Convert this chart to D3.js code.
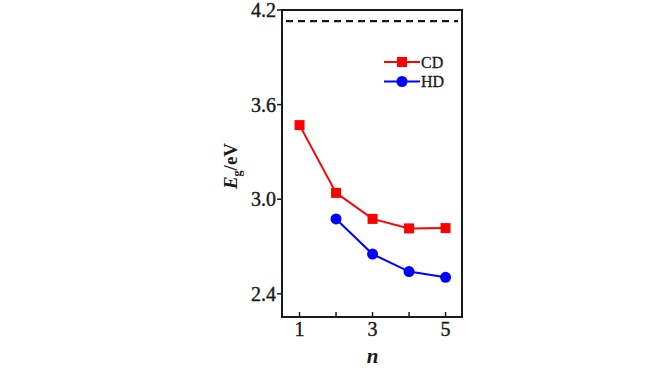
<!DOCTYPE html>
<html>
<head>
<meta charset="utf-8">
<script src="https://cdn.jsdelivr.net/npm/d3@7"></script>
<style>
  body { margin: 0; background: #fff; }
</style>
</head>
<body>
<script>
let n = [1, 2, 3, 4, 5]
let cdN = [1, 2, 3, 4, 5]
let cdEg = [3.47, 3.04, 2.875, 2.815, 2.817]
let hdN = [2, 3, 4, 5]
let hdEg = [2.875, 2.652, 2.541, 2.505]
let limitEg = 4.13
let yTicks = [2.4, 3.0, 3.6, 4.2]
let xLabels = [1, 3, 5]

let
  width = 668,
  height = 372

let margin = { top: 10, bottom: 55, left: 282, right: 206 }
let font = 'Liberation Serif'
let ink = '#1a1a1a'

let svg = d3.select('body')
  .append('svg')
  .attr('width', width)
  .attr('height', height)
  .attr('font-family', font)

let chartWidth = width - margin.left - margin.right
let chartHeight = height - margin.top - margin.bottom

let x = d3.scaleLinear().domain([0.52, 5.45]).range([0, chartWidth])
let y = d3.scaleLinear().domain([2.253, 4.2]).range([chartHeight, 0])

let chart = svg.append('g')
  .attr('transform', `translate(${margin.left}, ${margin.top})`)

// dashed limit line
chart.append('line')
  .attr('x1', 4)
  .attr('x2', chartWidth - 4)
  .attr('y1', y(limitEg))
  .attr('y2', y(limitEg))
  .attr('stroke', ink)
  .attr('stroke-width', 2.2)
  .attr('stroke-dasharray', '7,5')

// y axis ticks (outward)
yTicks.forEach(t => {
  chart.append('line')
    .attr('x1', -5).attr('x2', 0)
    .attr('y1', y(t)).attr('y2', y(t))
    .attr('stroke', ink).attr('stroke-width', 1.5)
  chart.append('text')
    .attr('x', -6)
    .attr('y', y(t) + 7)
    .attr('text-anchor', 'end')
    .attr('font-size', '20px')
    .attr('fill', ink)
    .attr('stroke', ink)
    .attr('stroke-width', 0.4)
    .text(t.toFixed(1))
})

// x axis ticks (inward)
n.forEach(t => {
  chart.append('line')
    .attr('x1', x(t)).attr('x2', x(t))
    .attr('y1', chartHeight).attr('y2', chartHeight - 5)
    .attr('stroke', ink).attr('stroke-width', 1.5)
})
xLabels.forEach(t => {
  chart.append('text')
    .attr('x', x(t))
    .attr('y', chartHeight + 19)
    .attr('text-anchor', 'middle')
    .attr('font-size', '20px')
    .attr('fill', ink)
    .attr('stroke', ink)
    .attr('stroke-width', 0.4)
    .text(t)
})

// frame
chart.append('rect')
  .attr('width', chartWidth)
  .attr('height', chartHeight)
  .attr('fill', 'none')
  .attr('stroke', ink)
  .attr('stroke-width', 2)

let line = d3.line()
  .x(d => x(d[0]))
  .y(d => y(d[1]))

let cd = cdN.map((v, i) => [v, cdEg[i]])
let hd = hdN.map((v, i) => [v, hdEg[i]])

chart.append('path')
  .datum(cd)
  .attr('d', line)
  .attr('fill', 'none')
  .attr('stroke', '#ff0000')
  .attr('stroke-width', 2)

chart.selectAll('.cd')
  .data(cd)
  .enter()
  .append('rect')
  .attr('x', d => x(d[0]) - 5)
  .attr('y', d => y(d[1]) - 5)
  .attr('width', 10)
  .attr('height', 10)
  .attr('fill', '#ff0000')

chart.append('path')
  .datum(hd)
  .attr('d', line)
  .attr('fill', 'none')
  .attr('stroke', '#0000ff')
  .attr('stroke-width', 2)

chart.selectAll('.hd')
  .data(hd)
  .enter()
  .append('circle')
  .attr('cx', d => x(d[0]))
  .attr('cy', d => y(d[1]))
  .attr('r', 5.5)
  .attr('fill', '#0000ff')

// legend
let legend = [
  { name: 'CD', color: '#ff0000', shape: 'square' },
  { name: 'HD', color: '#0000ff', shape: 'circle' }
]
legend.forEach((s, i) => {
  let ly = 52 + i * 19.5
  let lx = 102
  chart.append('line')
    .attr('x1', lx).attr('x2', lx + 36)
    .attr('y1', ly).attr('y2', ly)
    .attr('stroke', s.color).attr('stroke-width', 2)
  if (s.shape === 'square') {
    chart.append('rect')
      .attr('x', lx + 18 - 5).attr('y', ly - 5)
      .attr('width', 10).attr('height', 10)
      .attr('fill', s.color)
  } else {
    chart.append('circle')
      .attr('cx', lx + 18).attr('cy', ly)
      .attr('r', 5.5)
      .attr('fill', s.color)
  }
  chart.append('text')
    .attr('x', lx + 37)
    .attr('y', ly + 5.5)
    .attr('font-size', '16px')
    .attr('fill', ink)
    .attr('stroke', ink)
    .attr('stroke-width', 0.3)
    .text(s.name)
})

// axis titles
let yTitle = svg.append('text')
  .attr('transform', `translate(237, 166) rotate(-90)`)
  .attr('text-anchor', 'middle')
  .attr('font-size', '19px')
  .attr('font-weight', 'bold')
  .attr('fill', ink)
yTitle.append('tspan').attr('font-style', 'italic').text('E')
yTitle.append('tspan').attr('font-size', '12px').attr('dy', 4).text('g')
yTitle.append('tspan').attr('dy', -4).text('/eV')

svg.append('text')
  .attr('x', margin.left + x(3))
  .attr('y', 363)
  .attr('text-anchor', 'middle')
  .attr('font-size', '21px')
  .attr('font-weight', 'bold')
  .attr('font-style', 'italic')
  .attr('fill', ink)
  .text('n')
</script>
</body>
</html>
